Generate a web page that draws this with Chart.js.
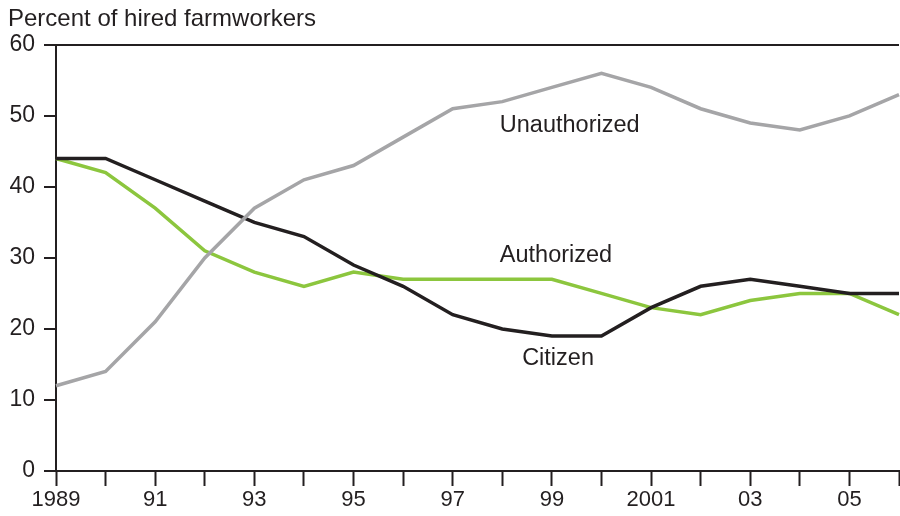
<!DOCTYPE html>
<html>
<head>
<meta charset="utf-8">
<script src="https://cdn.jsdelivr.net/npm/chart.js@4.4.1/dist/chart.umd.min.js"></script>
<style>
  html, body { margin: 0; padding: 0; background: #fff; }
  #wrap { width: 900px; height: 516px; position: relative; }
</style>
</head>
<body>
<div id="wrap"><canvas id="myChart"></canvas></div>
<script>
// ********** data ************
const years = ["1989", "1990", "1991", "1992", "1993", "1994", "1995", "1996", "1997",
  "1998", "1999", "2000", "2001", "2002", "2003", "2004", "2005", "2006"];
const unauthorized = [12, 14, 21, 30, 37, 41, 43, 47, 51, 52, 54, 56, 54, 51, 49, 48, 50, 53];
const citizen = [44, 44, 41, 38, 35, 33, 29, 26, 22, 20, 19, 19, 23, 26, 27, 26, 25, 25];
const authorized = [44, 42, 37, 31, 28, 26, 28, 27, 27, 27, 27, 25, 23, 22, 24, 25, 25, 22];
const yearLabels = { 1989: "1989", 1991: "91", 1993: "93", 1995: "95", 1997: "97",
  1999: "99", 2001: "2001", 2003: "03", 2005: "05" };

const FONT = "'Liberation Sans', Arial, Helvetica, sans-serif";
const INK = "#231f20";

// ********** labels on the lines ************
const lineLabels = {
  id: "lineLabels",
  afterDatasetsDraw(chart) {
    const { ctx, scales } = chart;
    const x = scales.x, y = scales.y;
    const put = (text, xi, yv) => {
      ctx.fillText(text, x.getPixelForValue(xi), y.getPixelForValue(yv));
    };
    ctx.save();
    ctx.fillStyle = INK;
    ctx.font = "23.5px " + FONT;
    ctx.textAlign = "left";
    ctx.textBaseline = "middle";
    put("Unauthorized", 8.95, 48.7);
    put("Authorized", 8.95, 30.3);
    put("Citizen", 9.4, 15.9);
    ctx.restore();
  },
};

const ctx = document.getElementById("myChart");
const myChart = new Chart(ctx, {
  type: "line",
  data: {
    labels: years,
    datasets: [
      {
        label: "Unauthorized",
        data: unauthorized,
        borderColor: "#a5a5a7",
        borderWidth: 3.5,
      },
      {
        label: "Citizen",
        data: citizen,
        borderColor: INK,
        borderWidth: 3.5,
      },
      {
        label: "Authorized",
        data: authorized,
        borderColor: "#8cc63e",
        borderWidth: 3.5,
      },
    ],
  },
  options: {
    responsive: true,
    maintainAspectRatio: false,
    animation: false,
    layout: { padding: { left: 8, right: 0, top: 0, bottom: 0 } },
    elements: {
      point: { radius: 0 },
      line: { tension: 0, borderJoinStyle: "miter" },
    },
    plugins: {
      legend: { display: false },
      tooltip: { enabled: false },
      title: {
        display: true,
        text: "Percent of hired farmworkers",
        align: "start",
        color: INK,
        font: { family: FONT, size: 24, weight: "normal" },
        padding: { top: 5, bottom: 11 },
      },
    },
    scales: {
      x: {
        offset: false,
        afterFit: (s) => { s.height = 45; },
        grid: {
          drawOnChartArea: false,
          tickLength: 15,
          tickWidth: 2,
          tickColor: INK,
        },
        border: { color: INK, width: 2 },
        ticks: {
          autoSkip: false,
          maxRotation: 0,
          color: INK,
          padding: 1,
          font: { family: FONT, size: 22 },
          callback: function (v, i) {
            return yearLabels[years[i]] || "";
          },
        },
      },
      y: {
        min: 0,
        max: 60,
        afterFit: (s) => { s.width = 48; },
        grid: {
          drawOnChartArea: true,
          color: (c) => (c.tick && c.tick.value === 60 ? INK : "rgba(0,0,0,0)"),
          lineWidth: 2,
          tickLength: 12,
          tickWidth: 2,
          tickColor: INK,
        },
        border: { color: INK, width: 2 },
        ticks: {
          stepSize: 10,
          color: INK,
          padding: 9,
          font: { family: FONT, size: 23 },
        },
      },
    },
  },
  plugins: [lineLabels],
});
</script>
</body>
</html>
